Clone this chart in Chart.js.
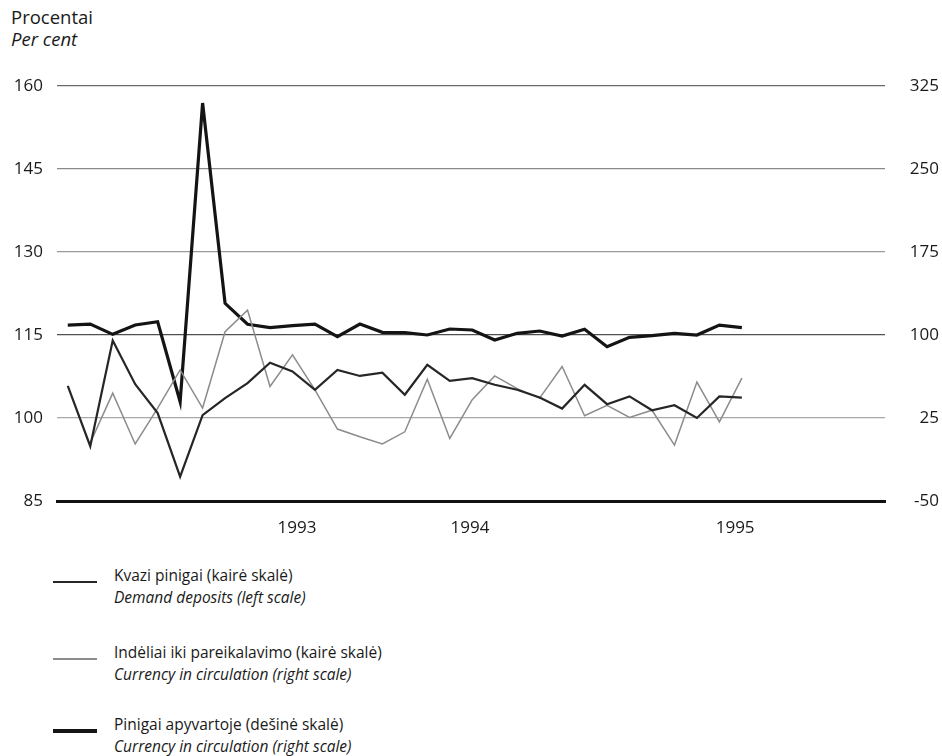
<!DOCTYPE html>
<html>
<head>
<meta charset="utf-8">
<script src="https://cdn.jsdelivr.net/npm/chart.js@4.4.0/dist/chart.umd.min.js"></script>
<style>
  body { margin: 0; background: #fff; font-family: "Open Sans", sans-serif; color: #1a1a1a; }
  #wrap { position: relative; width: 942px; height: 756px; overflow: hidden; }
  #chart { position: absolute; left: 0; top: 0; }
  .title { position: absolute; left: 11px; font-size: 18.5px; line-height: 22px; }
  .legend-item { position: absolute; left: 0; width: 600px; }
  .legend-item .swatch { position: absolute; left: 53px; width: 44px; }
  .legend-item .txt { position: absolute; left: 114px; font-size: 15.5px; line-height: 21.5px; white-space: nowrap; }
  i { font-style: italic; }
</style>
</head>
<body>
<div id="wrap">
  <div class="title" style="top:6px">Procentai</div>
  <div class="title" style="top:28px"><i>Per cent</i></div>
  <canvas id="chart" width="942" height="560"></canvas>
  <div id="legend"></div>
</div>
<script>
// monthly observations, index 0..30
const months = [
  "m01", "m02", "m03", "m04", "m05", "m06", "m07", "m08", "m09", "m10", "m11",
  "m12", "m13", "m14", "m15", "m16", "m17", "m18", "m19", "m20", "m21", "m22",
  "m23", "m24", "m25", "m26", "m27", "m28", "m29", "m30", "m31",
];

// Kvazi pinigai (left scale)
const quasiMoney = [
  105.8, 94.9, 114.0, 106.1, 100.9, 89.4, 100.5, 103.6, 106.3, 110.0, 108.4,
  105.1, 108.7, 107.6, 108.2, 104.2, 109.6, 106.7, 107.2, 106.0, 105.1, 103.7,
  101.7, 106.0, 102.5, 103.9, 101.4, 102.3, 100.0, 103.9, 103.7,
];

// Indeliai iki pareikalavimo (left scale) - starts one month later
const demandDeposits = [
  null, 95.5, 104.5, 95.3, 101.8, 108.7, 101.8, 115.6, 119.5, 105.7, 111.4,
  105.1, 98.0, 96.6, 95.3, 97.5, 107.0, 96.3, 103.3, 107.6, 105.3, 103.6,
  109.3, 100.4, 102.3, 100.1, 101.4, 95.1, 106.5, 99.3, 107.2,
];

// Pinigai apyvartoje (right scale)
const currency = [
  109.0, 109.9, 100.6, 109.0, 112.0, 39.7, 309.6, 128.6, 109.7, 106.6, 108.4,
  109.9, 98.5, 109.9, 102.4, 102.1, 100.0, 105.4, 104.5, 95.5, 101.5, 103.6,
  99.1, 105.2, 89.4, 97.9, 99.4, 101.5, 100.0, 109.0, 106.6,
];

const yearTickPos = [10.2, 17.9, 29.7];
const yearTickLabels = ["1993", "1994", "1995"];

const leftTicks = [85, 100, 115, 130, 145, 160];
const rightTicks = [-50, 25, 100, 175, 250, 325];

const legendLines = [
  ["Kvazi pinigai (kairė skalė)", "Demand deposits (left scale)"],
  ["Indėliai iki pareikalavimo (kairė skalė)", "Currency in circulation (right scale)"],
  ["Pinigai apyvartoje (dešinė skalė)", "Currency in circulation (right scale)"],
];

const toPoints = (arr) => arr.map((v, i) => ({ x: i, y: v }));

const gridColors = { 85: "rgba(0,0,0,0)", 100: "#a8a8a8", 115: "#505050", 130: "#9a9a9a", 145: "#8a8a8a", 160: "#6a6a6a" };

const tickFont = { family: "Open Sans", size: 17 };

const datasets = [
  {
    label: legendLines[0][0],
    data: toPoints(quasiMoney),
    yAxisID: "y",
    borderColor: "#262626",
    borderWidth: 2.2,
  },
  {
    label: legendLines[1][0],
    data: toPoints(demandDeposits),
    yAxisID: "y",
    borderColor: "#8c8c8c",
    borderWidth: 1.5,
  },
  {
    label: legendLines[2][0],
    data: toPoints(currency),
    yAxisID: "y1",
    borderColor: "#141414",
    borderWidth: 3.2,
  },
];

const ctx = document.getElementById("chart").getContext("2d");

const chart = new Chart(ctx, {
  type: "line",
  data: { datasets: datasets },
  options: {
    responsive: false,
    animation: false,
    spanGaps: false,
    elements: { point: { radius: 0 }, line: { tension: 0, borderJoinStyle: "miter" } },
    layout: { padding: { top: 86, right: 3, left: 0, bottom: 0 } },
    plugins: { legend: { display: false }, tooltip: { enabled: false } },
    scales: {
      x: {
        type: "linear",
        min: -0.48,
        max: 36.37,
        afterBuildTicks: (s) => { s.ticks = yearTickPos.map((v) => ({ value: v })); },
        afterFit: (s) => { s.height = 59; },
        ticks: {
          callback: (v, i) => yearTickLabels[i],
          font: tickFont,
          color: "#1a1a1a",
          padding: 17,
          maxRotation: 0,
        },
        grid: { display: false, drawTicks: false },
        border: { display: true, color: "#111", width: 3 },
      },
      y: {
        position: "left",
        min: 85,
        max: 160,
        afterBuildTicks: (s) => { s.ticks = leftTicks.map((v) => ({ value: v })); },
        afterFit: (s) => { s.width = 57; },
        ticks: { font: tickFont, color: "#1a1a1a", padding: 14 },
        grid: { drawTicks: false, color: (c) => gridColors[c.tick.value], lineWidth: 1.3 },
        border: { display: false },
      },
      y1: {
        position: "right",
        min: -50,
        max: 325,
        afterBuildTicks: (s) => { s.ticks = rightTicks.map((v) => ({ value: v })); },
        afterFit: (s) => { s.width = 54; },
        ticks: { font: tickFont, color: "#1a1a1a", padding: 20, crossAlign: "far" },
        grid: { display: false, drawTicks: false },
        border: { display: false },
      },
    },
  },
});

// legend built from the datasets
const legendTops = [565, 642, 714];
const legendEl = document.getElementById("legend");
chart.data.datasets.forEach((ds, i) => {
  const item = document.createElement("div");
  item.className = "legend-item";
  item.style.top = legendTops[i] + "px";
  const sw = document.createElement("div");
  sw.className = "swatch";
  sw.style.top = (17 - ds.borderWidth / 2) + "px";
  sw.style.height = ds.borderWidth + "px";
  sw.style.background = ds.borderColor;
  const txt = document.createElement("div");
  txt.className = "txt";
  txt.innerHTML = legendLines[i][0] + "<br><i>" + legendLines[i][1] + "</i>";
  item.appendChild(sw);
  item.appendChild(txt);
  legendEl.appendChild(item);
});
</script>
</body>
</html>
